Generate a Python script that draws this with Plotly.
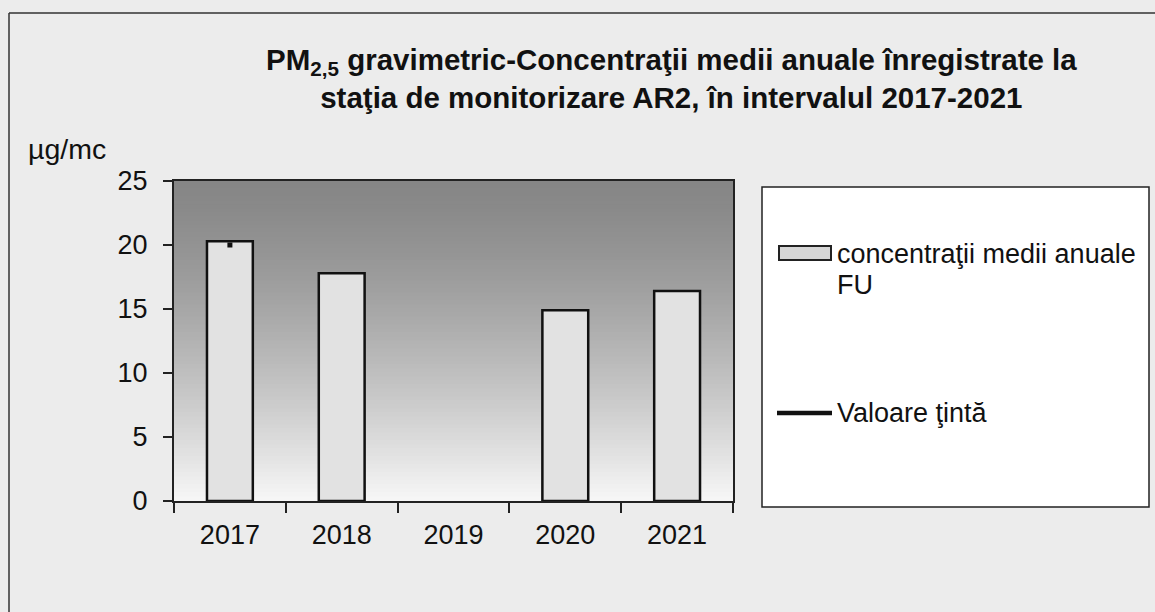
import plotly.graph_objects as go

# ---- data ----
years = ["2017", "2018", "2019", "2020", "2021"]
conc_values = [20.3, 17.8, None, 14.9, 16.4]
target_values = [20.0, None, None, None, None]
y_ticks = [0, 5, 10, 15, 20, 25]
series_bar = "concentraţii medii anuale FU"
series_line = "Valoare ţintă"
title_l1 = "PM<sub>2,5</sub> gravimetric-Concentraţii medii anuale înregistrate la"
title_l2 = "staţia de monitorizare AR2, în intervalul 2017-2021"
unit = "µg/mc"

W, H = 1155, 612
L, R, T, B = 174, 733, 181, 501  # plot area in pixels

def px(xp):
    return (xp - L) / (R - L)

def py(yp):
    return (B - yp) / (B - T)

FONT = "Arial, Liberation Sans, sans-serif"

fig = go.Figure()
fig.add_trace(go.Bar(
    x=years, y=conc_values, name=series_bar,
    marker=dict(color="#e2e2e2", line=dict(color="#111111", width=2.5)),
    showlegend=False,
))
fig.add_trace(go.Scatter(
    x=years, y=target_values, name=series_line, mode="markers",
    marker=dict(symbol="square", size=5, color="#111111"),
    showlegend=False,
))

shapes = []
# gradient plot background
N = 80
top = (0x86, 0x86, 0x86)
bot = (0xf6, 0xf6, 0xf6)
for i in range(N):
    t = i / (N - 1)
    c = tuple(int(round(top[k] + (bot[k] - top[k]) * (t ** 1.35))) for k in range(3))
    shapes.append(dict(
        type="rect", xref="x domain", yref="y domain", layer="below",
        x0=0, x1=1, y0=1 - (i + 1) / N, y1=1 - i / N + 0.002,
        fillcolor="rgb(%d,%d,%d)" % c, line=dict(width=0),
    ))
# outer chart border
shapes.append(dict(type="line", xref="paper", yref="paper", x0=px(9), x1=px(9), y0=py(13), y1=py(640),
                   line=dict(color="#333333", width=1.5)))
shapes.append(dict(type="line", xref="paper", yref="paper", x0=px(9), x1=px(1170), y0=py(13), y1=py(13),
                   line=dict(color="#333333", width=1.5)))
# legend box
shapes.append(dict(type="rect", xref="paper", yref="paper", x0=px(762), x1=px(1149), y0=py(507), y1=py(187),
                   fillcolor="white", line=dict(color="#222222", width=1.5)))
# legend symbols
shapes.append(dict(type="rect", xref="paper", yref="paper", x0=px(779), x1=px(831), y0=py(260), y1=py(246),
                   fillcolor="#d6d6d6", line=dict(color="#222222", width=2)))
shapes.append(dict(type="line", xref="paper", yref="paper", x0=px(777), x1=px(832), y0=py(413), y1=py(413),
                   line=dict(color="#111111", width=4.5)))

annotations = [
    dict(xref="paper", yref="paper", x=px(671), y=py(79), xanchor="center", yanchor="middle",
         text="<b>" + title_l1 + "<br>" + title_l2 + "</b>", showarrow=False,
         font=dict(family=FONT, size=29.5, color="#111111")),
    dict(xref="paper", yref="paper", x=px(26), y=py(149), xanchor="left", yanchor="middle",
         text=unit, showarrow=False, font=dict(family=FONT, size=28.5, color="#111111")),
    dict(xref="paper", yref="paper", x=px(835), y=py(254), xanchor="left", yanchor="middle",
         text=series_bar.rsplit(" ", 1)[0], showarrow=False, font=dict(family=FONT, size=27, color="#111111")),
    dict(xref="paper", yref="paper", x=px(835), y=py(285), xanchor="left", yanchor="middle",
         text=series_bar.rsplit(" ", 1)[1], showarrow=False, font=dict(family=FONT, size=27, color="#111111")),
    dict(xref="paper", yref="paper", x=px(835), y=py(413), xanchor="left", yanchor="middle",
         text=series_line, showarrow=False, font=dict(family=FONT, size=27, color="#111111")),
]

fig.update_layout(
    width=W, height=H,
    margin=dict(l=L, r=W - R, t=T, b=H - B, pad=0),
    paper_bgcolor="#ececec",
    plot_bgcolor="white",
    bargap=0.59,
    font=dict(family=FONT, size=27, color="#111111"),
    shapes=shapes,
    annotations=annotations,
    showlegend=False,
)
fig.update_xaxes(
    type="category", tickson="boundaries", ticks="outside", ticklen=10, tickwidth=1.5, tickcolor="#222222",
    showline=True, linecolor="#222222", linewidth=2, mirror=True, showgrid=False,
    tickfont=dict(family=FONT, size=27, color="#111111"), ticklabelstandoff=9,
)
fig.update_yaxes(
    range=[0, 25], tickvals=y_ticks, ticks="outside", ticklen=9, tickwidth=1.5, tickcolor="#222222",
    showline=True, linecolor="#222222", linewidth=2, mirror=True, showgrid=False, zeroline=False,
    tickfont=dict(family=FONT, size=27, color="#111111"), ticklabelstandoff=10,
)

fig.write_html(
    "out.html",
    config={"displayModeBar": False},
    post_script="document.body.style.margin='0';document.body.style.padding='0';",
)
